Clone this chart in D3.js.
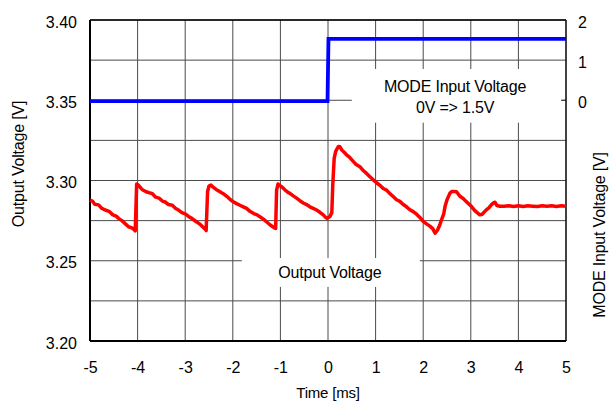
<!DOCTYPE html>
<meta charset="utf-8">
<head>
<title>Output Voltage vs MODE Input Voltage</title>
<style>
  body { margin: 0; background: white; }
  text { font-family: "Liberation Sans", Arial, sans-serif; fill: #000; }
</style>
</head>
<body>
<div id="chart"></div>
<script src="https://d3js.org/d3.v7.min.js"></script>
<script>

// time axis ticks [ms]
var timeTicks = [-5, -4, -3, -2, -1, 0, 1, 2, 3, 4, 5];
// left axis (output voltage) tick labels
var voltTicks = [3.20, 3.25, 3.30, 3.35, 3.40];
// right axis (mode input) tick labels
var modeTicks = [0, 1, 2];

// output voltage trace [t ms, V]
var outTime = [-5.00, -4.95, -4.90, -4.82, -4.75, -4.68, -4.60, -4.52, -4.45, -4.40, -4.33, -4.25, -4.19, -4.12, -4.06, -4.05,
  -4.03, -4.02, -3.98, -3.93, -3.89, -3.82, -3.76, -3.70, -3.62, -3.55, -3.48, -3.42, -3.35, -3.27, -3.20, -3.14, -3.07, -3.00, -2.93, -2.86, -2.78, -2.70, -2.63, -2.58, -2.56,
  -2.53, -2.50, -2.46, -2.42, -2.35, -2.27, -2.20, -2.12, -2.05, -1.99, -1.92, -1.85, -1.78, -1.71, -1.64, -1.56, -1.49, -1.43, -1.35, -1.28, -1.22, -1.16, -1.12, -1.10,
  -1.08, -1.05, -1.02, -0.96, -0.90, -0.84, -0.80, -0.73, -0.66, -0.59, -0.52, -0.45, -0.38, -0.31, -0.24, -0.17, -0.10, -0.05, -0.02,
  0.04, 0.08, 0.10, 0.13, 0.16, 0.18, 0.22, 0.25, 0.29, 0.34, 0.39, 0.45, 0.52, 0.59, 0.67, 0.74, 0.81, 0.88, 0.95, 1.02, 1.09, 1.16, 1.23, 1.30, 1.37, 1.44, 1.51, 1.58, 1.65, 1.72, 1.79, 1.86, 1.93, 2.00, 2.07, 2.14, 2.20, 2.25,
  2.30, 2.35, 2.39, 2.43, 2.46, 2.50, 2.56, 2.60, 2.64, 2.70, 2.74, 2.78, 2.84, 2.90, 2.96, 3.02, 3.08, 3.14, 3.19, 3.24, 3.29, 3.33, 3.38, 3.43, 3.48, 3.51, 3.55, 3.61,
  3.70, 3.80, 3.90, 4.00, 4.10, 4.20, 4.30, 4.40, 4.50, 4.60, 4.70, 4.80, 4.90, 5.00];
var outVolt = [3.2878, 3.2872, 3.2852, 3.2848, 3.2826, 3.2816, 3.2808, 3.2786, 3.2778, 3.2764, 3.2750, 3.2728, 3.2712, 3.2705, 3.2690, 3.2686,
  3.2880, 3.2978, 3.2970, 3.2952, 3.2941, 3.2930, 3.2924, 3.2920, 3.2896, 3.2890, 3.2872, 3.2866, 3.2850, 3.2846, 3.2826, 3.2816, 3.2800, 3.2792, 3.2776, 3.2764, 3.2746, 3.2730, 3.2710, 3.2696, 3.2688,
  3.2930, 3.2966, 3.2972, 3.2960, 3.2944, 3.2930, 3.2918, 3.2900, 3.2880, 3.2868, 3.2856, 3.2846, 3.2836, 3.2826, 3.2808, 3.2794, 3.2786, 3.2774, 3.2758, 3.2740, 3.2724, 3.2712, 3.2704, 3.2702,
  3.2940, 3.2978, 3.2970, 3.2958, 3.2940, 3.2926, 3.2920, 3.2904, 3.2890, 3.2874, 3.2860, 3.2850, 3.2836, 3.2826, 3.2816, 3.2802, 3.2786, 3.2770, 3.2764,
  3.2776, 3.2800, 3.2972, 3.3138, 3.3180, 3.3192, 3.3212, 3.3210, 3.3190, 3.3176, 3.3160, 3.3146, 3.3122, 3.3100, 3.3086, 3.3062, 3.3044, 3.3024, 3.3004, 3.2986, 3.2970, 3.2950, 3.2940, 3.2918, 3.2900, 3.2880, 3.2870, 3.2850, 3.2836, 3.2818, 3.2806, 3.2790, 3.2770, 3.2746, 3.2730, 3.2716, 3.2700, 3.2672,
  3.2690, 3.2724, 3.2760, 3.2790, 3.2840, 3.2880, 3.2920, 3.2932, 3.2932, 3.2930, 3.2914, 3.2900, 3.2888, 3.2870, 3.2854, 3.2836, 3.2814, 3.2798, 3.2786, 3.2790, 3.2806, 3.2818, 3.2830, 3.2848, 3.2862, 3.2864, 3.2844, 3.2840,
  3.2840, 3.2842, 3.2838, 3.2842, 3.2838, 3.2842, 3.2840, 3.2838, 3.2842, 3.2840, 3.2842, 3.2838, 3.2842, 3.2840];

// mode input trace [t ms, V]
var modeTime = [-5.00, -4.50, -4.00, -3.50, -3.00, -2.50, -2.00, -1.50, -1.00, -0.50, -0.01, 0.01, 0.50, 1.00, 1.50, 2.00, 2.50, 3.00, 3.50, 4.00, 4.50, 5.00];
var modeVolt = [-0.02, -0.02, -0.02, -0.02, -0.02, -0.02, -0.02, -0.02, -0.02, -0.02, -0.02, 1.53, 1.53, 1.53, 1.53, 1.53, 1.53, 1.53, 1.53, 1.53, 1.53, 1.53];

var margin = {top: 20, right: 45, bottom: 62, left: 90},
    width = 611 - margin.left - margin.right,
    height = 403 - margin.top - margin.bottom;

var svg = d3.select("#chart")
  .append("svg")
    .attr("width", 611)
    .attr("height", 403)
  .append("g")
    .attr("transform", "translate(" + margin.left + "," + margin.top + ")");

var x = d3.scaleLinear().domain([-5, 5]).range([0, width]);
var y = d3.scaleLinear().domain([3.20, 3.40]).range([height, 0]);
var y2 = d3.scaleLinear().domain([-6, 2]).range([height, 0]);

// grid
var hGrid = d3.range(3.20, 3.4001, 0.025);
svg.append("g").selectAll("line")
  .data(hGrid)
  .enter().append("line")
    .attr("x1", 0).attr("x2", width)
    .attr("y1", function(d) { return y(d); })
    .attr("y2", function(d) { return y(d); })
    .attr("stroke", "#4a4a4a")
    .attr("stroke-width", 1);
svg.append("g").selectAll("line")
  .data(timeTicks)
  .enter().append("line")
    .attr("x1", function(d) { return x(d); })
    .attr("x2", function(d) { return x(d); })
    .attr("y1", 0).attr("y2", height)
    .attr("stroke", "#4a4a4a")
    .attr("stroke-width", 1);

// white boxes behind annotations
svg.append("rect")
  .attr("x", x(0.5)).attr("y", y(3.3695))
  .attr("width", x(4.92) - x(0.5)).attr("height", y(3.336) - y(3.3695))
  .attr("fill", "white");
svg.append("rect")
  .attr("x", x(-1.81)).attr("y", y(3.2517))
  .attr("width", x(1.93) - x(-1.81)).attr("height", y(3.2337) - y(3.2517))
  .attr("fill", "white");

var fmtInt = function(d) { return String(d); };

// axes
svg.append("g")
  .attr("transform", "translate(0," + height + ")")
  .call(d3.axisBottom(x).tickValues(timeTicks).tickSize(0).tickPadding(21).tickFormat(fmtInt))
  .call(function(g) { g.select(".domain").remove(); })
  .selectAll("text").style("font-size", "16px").style("font-family", "Liberation Sans");

svg.append("g")
  .call(d3.axisLeft(y).tickValues(voltTicks).tickSize(0).tickPadding(13).tickFormat(d3.format(".2f")))
  .call(function(g) { g.select(".domain").remove(); })
  .selectAll("text").style("font-size", "16px").style("font-family", "Liberation Sans").attr("dy", "0.45em");

svg.append("g")
  .attr("transform", "translate(" + width + ",0)")
  .call(d3.axisRight(y2).tickValues(modeTicks).tickSize(0).tickPadding(12).tickFormat(fmtInt))
  .call(function(g) { g.select(".domain").remove(); })
  .selectAll("text").style("font-size", "16px").style("font-family", "Liberation Sans").attr("dy", "0.45em");

// small inner tick at right zero
svg.append("line")
  .attr("x1", width - 5).attr("x2", width)
  .attr("y1", y2(0)).attr("y2", y2(0))
  .attr("stroke", "#333");

// frame
svg.append("line").attr("x1", 0).attr("x2", width).attr("y1", 0).attr("y2", 0).attr("stroke", "#000").attr("stroke-width", 1.5);
svg.append("line").attr("x1", width).attr("x2", width).attr("y1", 0).attr("y2", height).attr("stroke", "#000").attr("stroke-width", 1.2);
svg.append("line").attr("x1", 0).attr("x2", width).attr("y1", height).attr("y2", height).attr("stroke", "#000").attr("stroke-width", 2);
svg.append("line").attr("x1", 0).attr("x2", 0).attr("y1", 0).attr("y2", height).attr("stroke", "#000").attr("stroke-width", 2);

// traces
var outData = outTime.map(function(t, i) { return {t: t, v: outVolt[i]}; });
var modeData = modeTime.map(function(t, i) { return {t: t, v: modeVolt[i]}; });

svg.append("path")
  .datum(outData)
  .attr("fill", "none")
  .attr("stroke", "#ff0000")
  .attr("stroke-width", 3.5)
  .attr("stroke-linejoin", "round")
  .attr("d", d3.line()
    .x(function(d) { return x(d.t); })
    .y(function(d) { return y(d.v); }));

svg.append("path")
  .datum(modeData)
  .attr("fill", "none")
  .attr("stroke", "#0000ff")
  .attr("stroke-width", 3.8)
  .attr("d", d3.line()
    .x(function(d) { return x(d.t); })
    .y(function(d) { return y2(d.v); }));

// annotations
svg.append("text")
  .attr("x", x(2.67)).attr("y", y(3.3551))
  .attr("text-anchor", "middle")
  .style("font-size", "16px")
  .style("letter-spacing", "-0.2px")
  .text("MODE Input Voltage");
svg.append("text")
  .attr("x", x(2.67)).attr("y", y(3.3421))
  .attr("text-anchor", "middle")
  .style("font-size", "16px")
  .style("letter-spacing", "-0.2px")
  .text("0V => 1.5V");
svg.append("text")
  .attr("x", x(0.04)).attr("y", y(3.2393))
  .attr("text-anchor", "middle")
  .style("font-size", "16px")
  .style("letter-spacing", "-0.2px")
  .text("Output Voltage");

// axis titles
svg.append("text")
  .attr("text-anchor", "middle")
  .attr("x", width / 2)
  .attr("y", height + 57)
  .style("font-size", "15px")
  .style("letter-spacing", "-0.2px")
  .text("Time [ms]");

svg.append("text")
  .attr("text-anchor", "middle")
  .attr("transform", "translate(" + (-66) + "," + 144 + ") rotate(-90)")
  .style("font-size", "16px")
  .style("letter-spacing", "-0.2px")
  .text("Output Voltage [V]");

svg.append("text")
  .attr("text-anchor", "middle")
  .attr("transform", "translate(" + (width + 39) + "," + 215 + ") rotate(-90)")
  .style("font-size", "16px")
  .style("letter-spacing", "-0.2px")
  .text("MODE Input Voltage [V]");

</script>
</body>
